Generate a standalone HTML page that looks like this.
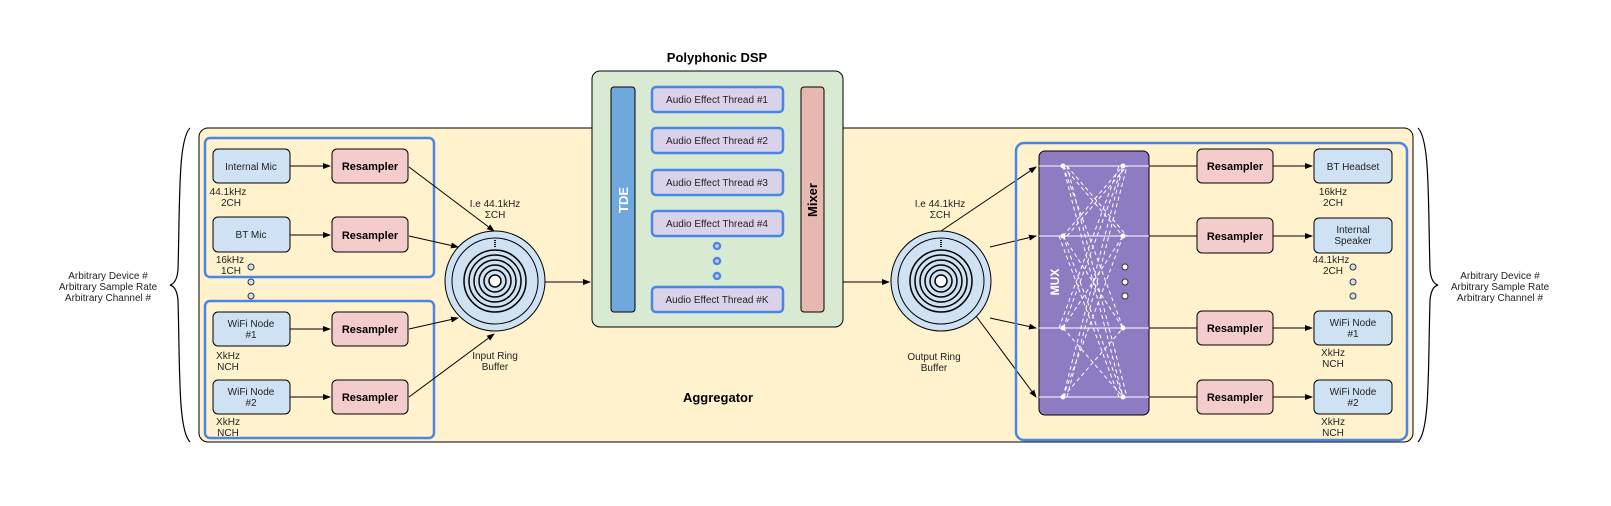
<!DOCTYPE html>
<html><head><meta charset="utf-8"><style>
html,body{margin:0;padding:0;background:#fff;}
svg{display:block;font-family:"Liberation Sans",sans-serif;}
</style></head><body>
<svg width="1611" height="506" viewBox="0 0 1611 506" xmlns="http://www.w3.org/2000/svg">
<defs>
<marker id="a" markerWidth="8" markerHeight="6" refX="7" refY="3" orient="auto" markerUnits="userSpaceOnUse"><path d="M0,0 L8,3 L0,6 z" fill="#000"/></marker>
</defs>
<!-- braces -->
<path d="M190,128 C178,140 180,200 178,270 C177,280 174,284 170,285 C174,286 177,290 178,300 C180,370 178,430 190,442" fill="none" stroke="#000" stroke-width="1.2"/>
<path d="M1418,128 C1430,140 1428,200 1430,270 C1431,280 1434,284 1438,285 C1434,286 1431,290 1430,300 C1428,370 1430,430 1418,442" fill="none" stroke="#000" stroke-width="1.2"/>
<g font-size="10" fill="#222" text-anchor="middle">
<text x="108" y="279">Arbitrary Device #</text><text x="108" y="290">Arbitrary Sample Rate</text><text x="108" y="301">Arbitrary Channel #</text>
<text x="1500" y="279">Arbitrary Device #</text><text x="1500" y="290">Arbitrary Sample Rate</text><text x="1500" y="301">Arbitrary Channel #</text>
</g>
<!-- aggregator -->
<rect x="199" y="128" width="1214" height="314" rx="9" fill="#fff2cc" stroke="#000" stroke-width="1"/>
<text x="718" y="402" font-size="13" font-weight="bold" text-anchor="middle">Aggregator</text>
<!-- left groups -->
<rect x="205" y="138" width="229" height="139" rx="5" fill="none" stroke="#4a86e8" stroke-width="2.5"/>
<rect x="205" y="301" width="229" height="137" rx="5" fill="none" stroke="#4a86e8" stroke-width="2.5"/>
<g stroke="#000" stroke-width="1">
<rect x="213" y="149" width="77" height="34" rx="5" fill="#cfe2f3"/>
<rect x="213" y="217" width="77" height="35" rx="5" fill="#cfe2f3"/>
<rect x="213" y="312" width="77" height="34" rx="5" fill="#cfe2f3"/>
<rect x="213" y="380" width="77" height="34" rx="5" fill="#cfe2f3"/>
<rect x="332" y="149" width="76" height="34" rx="5" fill="#f4cccc"/>
<rect x="332" y="217" width="76" height="35" rx="5" fill="#f4cccc"/>
<rect x="332" y="312" width="76" height="34" rx="5" fill="#f4cccc"/>
<rect x="332" y="380" width="76" height="34" rx="5" fill="#f4cccc"/>
<line x1="290" y1="166" x2="330" y2="166" marker-end="url(#a)"/>
<line x1="290" y1="235" x2="330" y2="235" marker-end="url(#a)"/>
<line x1="290" y1="329" x2="330" y2="329" marker-end="url(#a)"/>
<line x1="290" y1="397" x2="330" y2="397" marker-end="url(#a)"/>
<line x1="409" y1="167" x2="494" y2="231" marker-end="url(#a)"/>
<line x1="409" y1="236" x2="458" y2="247" marker-end="url(#a)"/>
<line x1="409" y1="329" x2="458" y2="318" marker-end="url(#a)"/>
<line x1="409" y1="397" x2="494" y2="334" marker-end="url(#a)"/>
</g>
<g font-size="10" fill="#222" text-anchor="middle">
<text x="251" y="170">Internal Mic</text>
<text x="251" y="238">BT Mic</text>
<text x="251" y="327">WiFi Node</text><text x="251" y="338">#1</text>
<text x="251" y="395">WiFi Node</text><text x="251" y="406">#2</text>
<text x="228" y="195">44.1kHz</text><text x="231" y="206">2CH</text>
<text x="230" y="263">16kHz</text><text x="231" y="274">1CH</text>
<text x="228" y="359">XkHz</text><text x="228" y="370">NCH</text>
<text x="228" y="425">XkHz</text><text x="228" y="436">NCH</text>
<text x="495" y="207">I.e 44.1kHz</text><text x="495" y="218">ΣCH</text>
<text x="495" y="359">Input Ring</text><text x="495" y="370">Buffer</text>
</g>
<g font-size="11" font-weight="bold" text-anchor="middle">
<text x="370" y="170">Resampler</text><text x="370" y="239">Resampler</text>
<text x="370" y="333">Resampler</text><text x="370" y="401">Resampler</text>
</g>
<g fill="#cfe2f3" stroke="#333" stroke-width="1">
<circle cx="251" cy="267" r="3"/><circle cx="251" cy="282" r="3"/><circle cx="251" cy="296" r="3"/>
<circle cx="1353" cy="267" r="3"/><circle cx="1353" cy="282" r="3"/><circle cx="1353" cy="296" r="3"/>
</g>
<!-- ring buffers -->
<g id="rb1" stroke="#000" stroke-width="1">
<circle cx="495" cy="281" r="50" fill="#cfe2f3"/>
<circle cx="495" cy="281" r="43" fill="#cfe2f3"/>
<circle cx="495" cy="281" r="31" fill="#cfe2f3" stroke-width="1.5"/>
<circle cx="495" cy="281" r="26" fill="none" stroke-width="1.5"/>
<circle cx="495" cy="281" r="21" fill="none" stroke-width="1.5"/>
<circle cx="495" cy="281" r="16" fill="none" stroke-width="1.5"/>
<circle cx="495" cy="281" r="11" fill="none" stroke-width="1.5"/>
<circle cx="495" cy="281" r="6" fill="#fff" stroke-width="1.5"/>
<line x1="495" y1="240" x2="495" y2="248" stroke-width="2" stroke-dasharray="1,1"/>
</g>
<g stroke="#000" stroke-width="1">
<circle cx="941" cy="281" r="50" fill="#cfe2f3"/>
<circle cx="941" cy="281" r="43" fill="#cfe2f3"/>
<circle cx="941" cy="281" r="31" fill="#cfe2f3" stroke-width="1.5"/>
<circle cx="941" cy="281" r="26" fill="none" stroke-width="1.5"/>
<circle cx="941" cy="281" r="21" fill="none" stroke-width="1.5"/>
<circle cx="941" cy="281" r="16" fill="none" stroke-width="1.5"/>
<circle cx="941" cy="281" r="11" fill="none" stroke-width="1.5"/>
<circle cx="941" cy="281" r="6" fill="#fff" stroke-width="1.5"/>
<line x1="941" y1="240" x2="941" y2="248" stroke-width="2" stroke-dasharray="1,1"/>
<line x1="545" y1="282" x2="590" y2="282" marker-end="url(#a)"/>
<line x1="843" y1="282" x2="889" y2="282" marker-end="url(#a)"/>
<line x1="941" y1="231" x2="1036" y2="167" marker-end="url(#a)"/>
<line x1="990" y1="247" x2="1036" y2="236" marker-end="url(#a)"/>
<line x1="990" y1="318" x2="1036" y2="328" marker-end="url(#a)"/>
<line x1="976" y1="316" x2="1036" y2="397" marker-end="url(#a)"/>
</g>
<g font-size="10" fill="#222" text-anchor="middle">
<text x="940" y="207">I.e 44.1kHz</text><text x="940" y="218">ΣCH</text>
<text x="934" y="360">Output Ring</text><text x="934" y="371">Buffer</text>
</g>
<!-- DSP -->
<text x="717" y="62" font-size="13" font-weight="bold" text-anchor="middle">Polyphonic DSP</text>
<rect x="592" y="71" width="251" height="256" rx="8" fill="#d9ead3" stroke="#000" stroke-width="1"/>
<rect x="611" y="87" width="24" height="225" rx="3" fill="#6fa8dc" stroke="#000" stroke-width="1"/>
<rect x="801" y="87" width="23" height="225" rx="3" fill="#e6b8af" stroke="#000" stroke-width="1"/>
<text transform="translate(628,200) rotate(-90)" font-size="13" font-weight="bold" fill="#fff" text-anchor="middle">TDE</text>
<text transform="translate(817,200) rotate(-90)" font-size="13" font-weight="bold" fill="#000" text-anchor="middle">Mixer</text>
<g fill="#d9d2e9" stroke="#4a86e8" stroke-width="2.5">
<rect x="652" y="87" width="131" height="25" rx="4"/>
<rect x="652" y="128" width="131" height="25" rx="4"/>
<rect x="652" y="170" width="131" height="25" rx="4"/>
<rect x="652" y="211" width="131" height="25" rx="4"/>
<rect x="652" y="287" width="131" height="25" rx="4"/>
</g>
<g fill="#d9d2e9" stroke="#4a86e8" stroke-width="2.5">
<circle cx="717" cy="246" r="3"/><circle cx="717" cy="261" r="3"/><circle cx="717" cy="276" r="3"/>
</g>
<g font-size="10" fill="#222" text-anchor="middle">
<text x="717" y="103">Audio Effect Thread #1</text>
<text x="717" y="144">Audio Effect Thread #2</text>
<text x="717" y="186">Audio Effect Thread #3</text>
<text x="717" y="227">Audio Effect Thread #4</text>
<text x="717" y="303">Audio Effect Thread #K</text>
</g>
<!-- right group -->
<rect x="1016" y="143" width="391" height="297" rx="8" fill="none" stroke="#4a86e8" stroke-width="2.5"/>
<rect x="1039" y="151" width="110" height="264" rx="6" fill="#8e7cc3" stroke="#000" stroke-width="1"/>
<g stroke="#fff" stroke-width="1">
<line x1="1039" y1="166" x2="1149" y2="166"/><line x1="1039" y1="236" x2="1149" y2="236"/>
<line x1="1039" y1="328" x2="1149" y2="328"/><line x1="1039" y1="397" x2="1149" y2="397"/>
</g>
<g stroke="#fff" stroke-width="1" stroke-dasharray="4,3" fill="none">
<path d="M1063,166 L1123,236 M1063,166 L1123,328 M1063,166 L1123,397 M1063,236 L1123,166 M1063,236 L1123,328 M1063,236 L1123,397 M1063,328 L1123,166 M1063,328 L1123,236 M1063,328 L1123,397 M1063,397 L1123,166 M1063,397 L1123,236 M1063,397 L1123,328"/>
<path d="M1067,166 L1127,236 M1067,166 L1127,397 M1067,236 L1127,166 M1067,397 L1127,166 M1059,236 L1119,397 M1059,328 L1119,166"/>
</g>
<g fill="#fff">
<circle cx="1063" cy="166" r="2.5"/><circle cx="1123" cy="166" r="2.5"/>
<circle cx="1063" cy="236" r="2.5"/><circle cx="1123" cy="236" r="2.5"/>
<circle cx="1063" cy="328" r="2.5"/><circle cx="1123" cy="328" r="2.5"/>
<circle cx="1063" cy="397" r="2.5"/><circle cx="1123" cy="397" r="2.5"/>
</g>
<g fill="#fff" stroke="#333" stroke-width="1">
<circle cx="1125" cy="267" r="3"/><circle cx="1125" cy="282" r="3"/><circle cx="1125" cy="296" r="3"/>
</g>
<text transform="translate(1059,282) rotate(-90)" font-size="12" font-weight="bold" fill="#fff" text-anchor="middle">MUX</text>
<g stroke="#000" stroke-width="1">
<line x1="1149" y1="166" x2="1197" y2="166"/><line x1="1149" y1="236" x2="1197" y2="236"/>
<line x1="1149" y1="328" x2="1197" y2="328"/><line x1="1149" y1="397" x2="1197" y2="397"/>
<rect x="1197" y="149" width="76" height="34" rx="5" fill="#f4cccc"/>
<rect x="1197" y="218" width="76" height="35" rx="5" fill="#f4cccc"/>
<rect x="1197" y="311" width="76" height="34" rx="5" fill="#f4cccc"/>
<rect x="1197" y="380" width="76" height="34" rx="5" fill="#f4cccc"/>
<rect x="1314" y="149" width="78" height="34" rx="5" fill="#cfe2f3"/>
<rect x="1314" y="218" width="78" height="35" rx="5" fill="#cfe2f3"/>
<rect x="1314" y="311" width="78" height="34" rx="5" fill="#cfe2f3"/>
<rect x="1314" y="380" width="78" height="34" rx="5" fill="#cfe2f3"/>
<line x1="1273" y1="166" x2="1312" y2="166" marker-end="url(#a)"/>
<line x1="1273" y1="236" x2="1312" y2="236" marker-end="url(#a)"/>
<line x1="1273" y1="328" x2="1312" y2="328" marker-end="url(#a)"/>
<line x1="1273" y1="397" x2="1312" y2="397" marker-end="url(#a)"/>
</g>
<g font-size="11" font-weight="bold" text-anchor="middle">
<text x="1235" y="170">Resampler</text><text x="1235" y="240">Resampler</text>
<text x="1235" y="332">Resampler</text><text x="1235" y="401">Resampler</text>
</g>
<g font-size="10" fill="#222" text-anchor="middle">
<text x="1353" y="170">BT Headset</text>
<text x="1353" y="233">Internal</text><text x="1353" y="244">Speaker</text>
<text x="1353" y="326">WiFi Node</text><text x="1353" y="337">#1</text>
<text x="1353" y="395">WiFi Node</text><text x="1353" y="406">#2</text>
<text x="1333" y="195">16kHz</text><text x="1333" y="206">2CH</text>
<text x="1331" y="263">44.1kHz</text><text x="1333" y="274">2CH</text>
<text x="1333" y="356">XkHz</text><text x="1333" y="367">NCH</text>
<text x="1333" y="425">XkHz</text><text x="1333" y="436">NCH</text>
</g>
</svg>
</body></html>
